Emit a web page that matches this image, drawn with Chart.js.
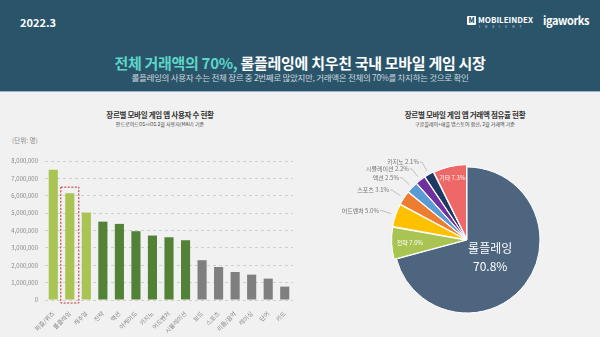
<!DOCTYPE html>
<html>
<head>
<meta charset="utf-8">
<script src="https://cdn.jsdelivr.net/npm/chart.js@4"></script>
<style>
  body { margin:0; width:600px; height:337px; overflow:hidden; background:#f1f1f1; font-family:'Noto Sans CJK KR', sans-serif; position:relative; }
  #head { position:absolute; left:0; top:0; width:600px; height:91px; background:#29546a; border-bottom:1px solid #9bb7c9; }
  .abs { position:absolute; white-space:nowrap; }
  #date { left:20px; top:14px; color:#fff; font-weight:bold; font-size:11px; }
  #title { left:0; width:600px; text-align:center; top:52px; color:#fff; font-weight:bold; font-size:15px; letter-spacing:-0.3px; }
  #title span { color:#5fd4c9; }
  #sub { left:0; width:600px; text-align:center; top:71px; color:#cfd8de; font-size:8.5px; letter-spacing:-0.3px; }
  #mi { left:467px; top:14px; color:#fff; font-size:8px; font-weight:bold; }
  #mi b { display:inline-block; width:9px; height:9px; background:#fff; color:#29546a; font-size:7px; text-align:center; line-height:9px; margin-right:2px; border-radius:1px; vertical-align:middle; }
  #mi i { position:absolute; left:12px; top:11px; font-size:3px; letter-spacing:5px; font-style:normal; color:#aac; }
  #iga { left:543px; top:12px; color:#fff; font-size:11px; font-weight:bold; letter-spacing:-0.4px; }
  .ct { text-align:center; width:200px; font-weight:bold; font-size:7.5px; color:#333; letter-spacing:-0.3px; }
  .cs { text-align:center; width:200px; font-size:5px; color:#444; }
  #unit { left:12px; top:135px; font-size:6.5px; color:#888; }
  #bar { position:absolute; left:0; top:150px; width:300px; height:187px; }
  #pie { position:absolute; left:330px; top:130px; width:270px; height:207px; }
</style>
</head>
<body>
<div id="head"></div>
<div class="abs" id="date">2022.3</div>
<div class="abs" id="mi"><b>M</b>MOBILEINDEX<i>INSIGHT</i></div>
<div class="abs" id="iga">igaworks</div>
<div class="abs" id="title"><span>전체 거래액의 70%,</span> 롤플레잉에 치우친 국내 모바일 게임 시장</div>
<div class="abs" id="sub">롤플레잉의 사용자 수는 전체 장르 중 2번째로 많았지만, 거래액은 전체의 70%를 차지하는 것으로 확인</div>

<div class="abs ct" style="left:60px;top:109px">장르별 모바일 게임 앱 사용자 수 현황</div>
<div class="abs cs" style="left:60px;top:120px">안드로이드OS+iOS 2월 사용자(MAU) 기준</div>
<div class="abs" id="unit">(단위: 명)</div>

<div class="abs ct" style="left:365px;top:109px">장르별 모바일 게임 앱 거래액 점유율 현황</div>
<div class="abs cs" style="left:365px;top:120px">구글플레이+애플 앱스토어 합산, 2월 거래액 기준</div>

<div id="bar"><canvas id="barCanvas"></canvas></div>
<div id="pie"><canvas id="pieCanvas"></canvas></div>

<script>
// users by genre (MAU, Feb)
const genres = ['퍼즐/퀴즈','롤플레잉','캐주얼','전략','액션','아케이드','카지노','어드벤처','시뮬레이션','보드','스포츠','리듬/음악','레이싱','단어','카드'];
const users = [7500000, 6150000, 5030000, 4510000, 4380000, 3960000, 3710000, 3610000, 3440000, 2290000, 1900000, 1610000, 1460000, 1230000, 770000];
const yTicks = [0, 1000000, 2000000, 3000000, 4000000, 5000000, 6000000, 7000000, 8000000];

// revenue share by genre (%)
const shareLabels = ['롤플레잉','전략','어드벤처','스포츠','액션','시뮬레이션','카지노','기타'];
const shares = [70.8, 7.0, 5.0, 3.1, 2.5, 2.2, 2.1, 7.3];

const highlightIndex = 1;

const lightGreen = '#a9c452', darkGreen = '#538135', gray = '#7f7f7f';
const barColors = genres.map((g, i) => i < 3 ? lightGreen : (i < 9 ? darkGreen : gray));
const pieColors = ['#4d657f', '#a9c452', '#ffc000', '#ed7d31', '#5b9bd5', '#7030a0', '#203864', '#ee6868'];

const font = 'Noto Sans CJK KR';

// dashed red box around the highlighted bar
const boxPlugin = {
  id: 'box',
  afterDatasetsDraw(chart) {
    const x = chart.scales.x, y = chart.scales.y;
    const cx = x.getPixelForValue(highlightIndex);
    const top = y.getPixelForValue(users[highlightIndex]) - 6;
    const bottom = y.getPixelForValue(0) + 3;
    const ctx = chart.ctx;
    ctx.save();
    ctx.strokeStyle = '#c0282d';
    ctx.lineWidth = 1;
    ctx.setLineDash([2, 1.5]);
    ctx.strokeRect(cx - 9, top, 18, bottom - top);
    ctx.restore();
  }
};

new Chart(document.getElementById('barCanvas'), {
  type: 'bar',
  data: {
    labels: genres,
    datasets: [{ data: users, backgroundColor: barColors, barPercentage: 0.6, categoryPercentage: 0.92 }]
  },
  options: {
    responsive: true,
    maintainAspectRatio: false,
    animation: false,
    layout: { padding: { top: 11, right: 7, left: 0, bottom: 0 } },
    plugins: { legend: { display: false }, tooltip: { enabled: false } },
    scales: {
      x: {
        grid: { display: false },
        border: { display: false },
        ticks: { color: '#888', font: { family: font, size: 6 }, minRotation: 45, maxRotation: 45, padding: 2 },
        afterFit(s) { s.height = 37; }
      },
      y: {
        min: 0, max: 8000000,
        afterBuildTicks(s) { s.ticks = yTicks.map(v => ({ value: v })); },
        grid: { color: '#cfcfcf', drawTicks: false },
        border: { display: false, dash: [3, 3] },
        ticks: { color: '#8a8a8a', font: { family: font, size: 6 }, padding: 7,
          callback: v => v.toLocaleString('en-US') },
        afterFit(s) { s.width = 45; }
      }
    }
  },
  plugins: [boxPlugin]
});

// pie labels
const outerIdx = [2, 3, 4, 5, 6];
const innerFrac = { 1: 0.7, 7: 0.8 };
const pieLabelPlugin = {
  id: 'pieLabels',
  afterDatasetsDraw(chart) {
    const meta = chart.getDatasetMeta(0);
    const ctx = chart.ctx;
    const offs = chart.data.datasets[0].offset;
    ctx.save();
    meta.data.forEach((arc, i) => {
      const p = arc.getProps(['x', 'y', 'startAngle', 'endAngle', 'outerRadius']);
      const mid = (p.startAngle + p.endAngle) / 2;
      const dx = Math.cos(mid), dy = Math.sin(mid);
      const r = p.outerRadius, o = offs[i];
      const txt = shareLabels[i] + ' ' + shares[i].toFixed(1) + '%';
      if (i === 0) {
        const px = p.x + dx * r * 0.4, py = p.y + dy * r * 0.4;
        ctx.fillStyle = '#fff';
        ctx.textAlign = 'center';
        ctx.textBaseline = 'middle';
        ctx.font = '12px ' + font;
        ctx.fillText(shareLabels[i], px, py - 9);
        ctx.fillText(shares[i].toFixed(1) + '%', px, py + 9);
      } else if (outerIdx.includes(i)) {
        const ax = p.x + dx * (r + o + 1), ay = p.y + dy * (r + o + 1);
        const ex = p.x + dx * (r + o + 11), ey = p.y + dy * (r + o + 11);
        ctx.strokeStyle = '#aaa';
        ctx.lineWidth = 0.7;
        ctx.beginPath();
        ctx.moveTo(ax, ay); ctx.lineTo(ex, ey); ctx.lineTo(ex - 2, ey);
        ctx.stroke();
        ctx.fillStyle = '#777';
        ctx.textAlign = 'right';
        ctx.textBaseline = 'middle';
        ctx.font = '6px ' + font;
        ctx.fillText(txt, ex - 3, ey);
      } else {
        const d = o + r * innerFrac[i];
        ctx.fillStyle = '#fff';
        ctx.textAlign = 'center';
        ctx.textBaseline = 'middle';
        ctx.font = '6px ' + font;
        ctx.fillText(txt, p.x + dx * d, p.y + dy * d);
      }
    });
    ctx.restore();
  }
};

new Chart(document.getElementById('pieCanvas'), {
  type: 'pie',
  data: {
    labels: shareLabels,
    datasets: [{
      data: shares,
      backgroundColor: pieColors,
      borderColor: '#ffffff',
      borderWidth: 1,
      offset: [0, 6, 6, 6, 6, 6, 6, 6]
    }]
  },
  options: {
    responsive: true,
    maintainAspectRatio: false,
    animation: false,
    radius: 73,
    layout: { padding: { left: 4, top: 13, right: 0, bottom: 0 } },
    plugins: { legend: { display: false }, tooltip: { enabled: false } }
  },
  plugins: [pieLabelPlugin]
});
</script>
</body>
</html>
